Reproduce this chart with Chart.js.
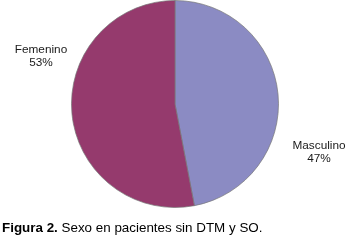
<!DOCTYPE html>
<html>
<head>
<meta charset="utf-8">
<script src="https://cdn.jsdelivr.net/npm/chart.js@4.4.1/dist/chart.umd.min.js"></script>
<style>
  html, body { margin: 0; padding: 0; background: #fff; }
  #wrap { width: 359px; height: 243px; position: relative; }
</style>
</head>
<body>
<div id="wrap"><canvas id="chart"></canvas></div>
<script>
const categories = ["Masculino", "Femenino"];
const values = [47, 53];
const sliceColors = ["#8B8BC3", "#953A6D"];
const caption = ["Figura 2.", " Sexo en pacientes sin DTM y SO."];

// where each slice label sits (Excel placed them by hand)
const labelSpots = [
  { x: 319, y: 149 },
  { x: 41, y: 53 },
];

const labelPlugin = {
  id: "labels",
  afterDraw: function (chart) {
    const ctx = chart.ctx;
    const total = values.reduce((a, b) => a + b, 0);
    ctx.save();
    ctx.fillStyle = "#1a1a1a";
    ctx.font = "11.8px 'Liberation Sans', Arial, sans-serif";
    ctx.textAlign = "center";
    ctx.textBaseline = "alphabetic";
    categories.forEach((name, i) => {
      const pct = Math.round((values[i] / total) * 100) + "%";
      ctx.fillText(name, labelSpots[i].x, labelSpots[i].y);
      ctx.fillText(pct, labelSpots[i].x, labelSpots[i].y + 12.5);
    });

    // caption under the figure
    ctx.textAlign = "left";
    ctx.fillStyle = "#000";
    ctx.font = "bold 13.4px 'Liberation Sans', Arial, sans-serif";
    ctx.fillText(caption[0], 2, 232);
    const w = ctx.measureText(caption[0]).width;
    ctx.font = "13.4px 'Liberation Sans', Arial, sans-serif";
    ctx.fillText(caption[1], 2 + w, 232);
    ctx.restore();
  },
};

const chart = new Chart(document.getElementById("chart"), {
  type: "pie",
  data: {
    labels: categories,
    datasets: [
      {
        data: values,
        backgroundColor: sliceColors,
        borderColor: "rgba(120, 120, 120, 0.7)",
        borderWidth: 1,
      },
    ],
  },
  plugins: [labelPlugin],
  options: {
    responsive: true,
    maintainAspectRatio: false,
    animation: false,
    layout: {
      padding: { top: 0, bottom: 35, left: 0, right: 9 },
    },
    plugins: {
      legend: { display: false },
      tooltip: { enabled: false },
    },
  },
});
</script>
</body>
</html>
